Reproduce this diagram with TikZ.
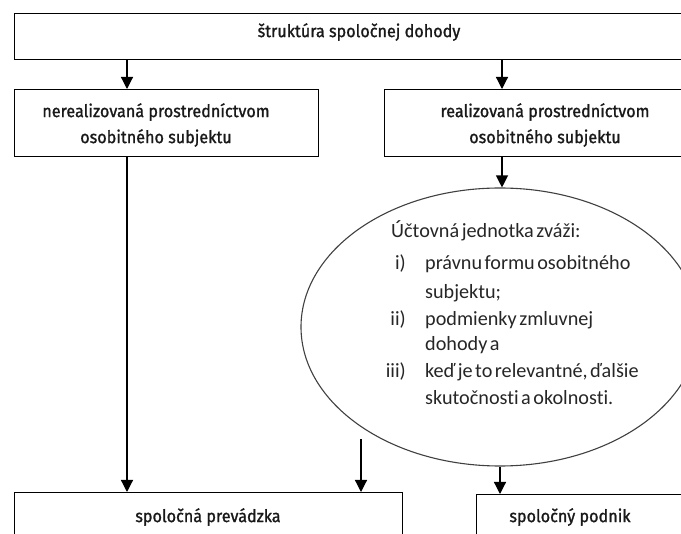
\documentclass[tikz,border=0pt]{standalone}
\usepackage{fontspec}
\usetikzlibrary{arrows.meta,shapes.geometric}
\newfontfamily\boxfont[FakeStretch=0.93,FakeBold=1.2]{Fira Sans}
\newfontfamily\ovalfont[WordSpace=0.55,Ligatures=NoCommon]{Carlito}
\begin{document}
\begin{tikzpicture}[x=1pt,y=-1pt,
  frame/.style={draw=black,line width=1.2pt,rectangle,inner sep=0pt,anchor=north west},
  boxtext/.style={font=\boxfont\fontsize{17.4}{26}\selectfont,text=black!90,align=center,inner sep=0pt},
  ovaltext/.style={font=\ovalfont\fontsize{20.2}{24}\selectfont,text=black!85,anchor=base west,inner sep=0pt},
  link/.style={draw=black,line width=1.2pt,-{Triangle[length=12pt,width=12pt]}}]
\useasboundingbox (0,0) rectangle (681,534);
\clip (0,0) rectangle (681,534);
% boxes
\node[frame,minimum width=690pt,minimum height=46pt] (top) at (14,13) {};
\node[frame,minimum width=304pt,minimum height=67pt] (lbox) at (14,89) {};
\node[frame,minimum width=322pt,minimum height=67pt] (rbox) at (384,89) {};
\node[frame,minimum width=388pt,minimum height=80pt] (op) at (14,492) {};
\node[frame,minimum width=260pt,minimum height=80pt] (jv) at (476,494) {};
% box captions
\node[boxtext] (toptxt) at (359,32) {štruktúra spoločnej dohody};
\node[boxtext] (ltxt) at (156,125) {nerealizovaná prostredníctvom\\osobitného subjektu};
\node[boxtext] (rtxt) at (545,125) {realizovaná prostredníctvom\\osobitného subjektu};
\node[boxtext] (optxt) at (208,517) {spoločná prevádzka};
\node[boxtext] (jvtxt) at (570,517) {spoločný podnik};
% assessment oval
\node[ellipse,draw=black!75,line width=1.1pt,minimum width=398pt,minimum height=278pt,inner sep=0pt] (oval) at (500,327) {};
\node[ovaltext] (o0) at (391,238) {Účtovná jednotka zváži:};
\node[ovaltext,anchor=base east] (n1) at (406,270) {i)};
\node[ovaltext] (t1) at (425,270) {právnu formu osobitného};
\node[ovaltext] (t1b) at (425,299) {subjektu;};
\node[ovaltext,anchor=base east] (n2) at (406,326) {ii)};
\node[ovaltext] (t2) at (425,326) {podmienky zmluvnej};
\node[ovaltext] (t2b) at (425,351) {dohody a};
\node[ovaltext,anchor=base east] (n3) at (406,378) {iii)};
\node[ovaltext] (t3) at (425,378) {keď je to relevantné, ďalšie};
\node[ovaltext] (t3b) at (425,405) {skutočnosti a okolnosti.};
% connectors
\coordinate (free) at (361,439);
\draw[link] (top.south -| 127,0) -- (lbox.north -| 127,0);
\draw[link] (top.south -| 502,0) -- (rbox.north -| 502,0);
\draw[link] (rbox.south -| 502,0) -- (oval.north -| 502,0);
\draw[link] (lbox.south -| 127,0) -- (op.north -| 127,0);
\draw[link] (free) -- (op.north -| free);
\draw[link] (oval.south) -- (jv.north -| oval.south);
\end{tikzpicture}
\end{document}
